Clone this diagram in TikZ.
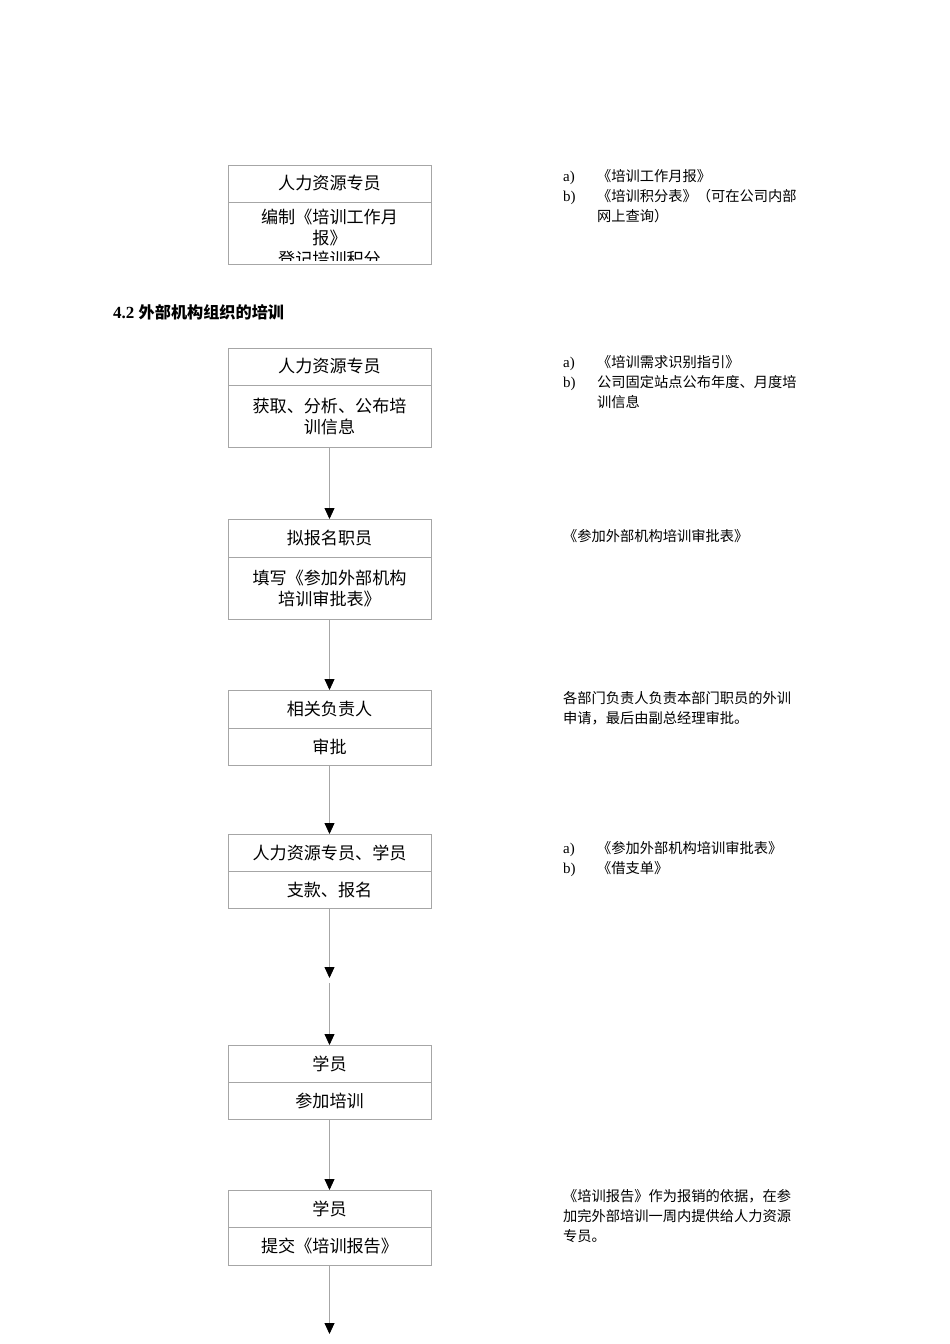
\documentclass[tikz,border=0pt]{standalone}
\usepackage{fontspec}
\setmainfont{Liberation Serif}
\newfontfamily\cjk{Noto Sans CJK SC}[Scale=0.95]
\usetikzlibrary{arrows.meta}
\begin{document}
\begin{tikzpicture}[x=1pt,y=-1pt,
  bx/.style={draw=black!35,line width=0.8pt},
  bt/.style={font=\fontsize{18}{21}\selectfont\cjk,align=center,text width=190pt,inner sep=0pt},
  rt/.style={font=\fontsize{15}{20}\selectfont\cjk,anchor=north west,align=left,inner sep=0pt},
  lb/.style={font=\fontsize{15}{20}\selectfont,anchor=north west,inner sep=0pt},
  ar/.style={draw=black!35,line width=0.8pt,-{Triangle[width=10pt,length=11pt,fill=black,color=black]}}]
\useasboundingbox[fill=white] (0,0) rectangle (950,1344);
% Box 1 (clipped)
\draw[bx] (228,165) rectangle (431,264);
\draw[bx] (228,202) -- (431,202);
\node[bt] (b1t) at (329.5,183) {人力资源专员};
\begin{scope}
\clip (228,203) rectangle (431,260);
\node[bt,anchor=north] (b1b) at (329.5,209) {编制《培训工作月\\报》\\登记培训积分};
\end{scope}
\node[lb] (l1) at (563,171) {a)};
\node[rt] (r1) at (597,169) {《培训工作月报》};
\node[lb] (l2) at (563,191) {b)};
\node[rt] (r2) at (597,189) {《培训积分表》（可在公司内部\\网上查询）};
% heading
\node[anchor=west,font=\fontsize{17}{20}\selectfont\bfseries,inner sep=0pt] (h) at (113,312) {4.2 {\cjk 外部机构组织的培训}};
% boxes
\foreach \n/\t/\m/\b/\top/\bot in {
 b2/348/385/447/人力资源专员/{获取、分析、公布培\\训信息},
 b3/519/557/619/拟报名职员/{填写《参加外部机构\\培训审批表》},
 b4/690/728/765/相关负责人/审批,
 b5/834/871/908/{人力资源专员、学员}/{支款、报名},
 b6/1045/1082/1119/学员/参加培训,
 b7/1190/1227/1265/学员/{提交《培训报告》}}{
 \draw[bx] (228,\t) rectangle (431,\b);
 \draw[bx] (228,\m) -- (431,\m);
 \node[bt] (\n t) at (329.5,{(\t+\m)/2}) {\top};
 \node[bt] (\n b) at (329.5,{(\m+\b)/2}) {\bot};
 \coordinate (\n top) at (329.5,\t);
 \coordinate (\n bot) at (329.5,\b);
}
\draw[ar] (b2bot) -- (b3top);
\draw[ar] (b3bot) -- (b4top);
\draw[ar] (b4bot) -- (b5top);
\coordinate (m1) at (329.5,978);
\coordinate (m2) at (329.5,983);
\draw[ar] (b5bot) -- (m1);
\draw[ar] (m2) -- (b6top);
\draw[ar] (b6bot) -- (b7top);
\coordinate (endc) at (329.5,1334);
\draw[ar] (b7bot) -- (endc);
% right texts
\node[lb] (l3) at (563,357) {a)};
\node[rt] (r3) at (597,355) {《培训需求识别指引》};
\node[lb] (l4) at (563,377) {b)};
\node[rt] (r4) at (597,375) {公司固定站点公布年度、月度培\\训信息};
\node[rt] (r5) at (563,529) {《参加外部机构培训审批表》};
\node[rt] (r6) at (563,691) {各部门负责人负责本部门职员的外训\\申请，最后由副总经理审批。};
\node[lb] (l7) at (563,843) {a)};
\node[rt] (r7) at (597,841) {《参加外部机构培训审批表》};
\node[lb] (l8) at (563,863) {b)};
\node[rt] (r8) at (597,861) {《借支单》};
\node[rt] (r9) at (563,1189) {《培训报告》作为报销的依据，在参\\加完外部培训一周内提供给人力资源\\专员。};
\end{tikzpicture}
\end{document}
